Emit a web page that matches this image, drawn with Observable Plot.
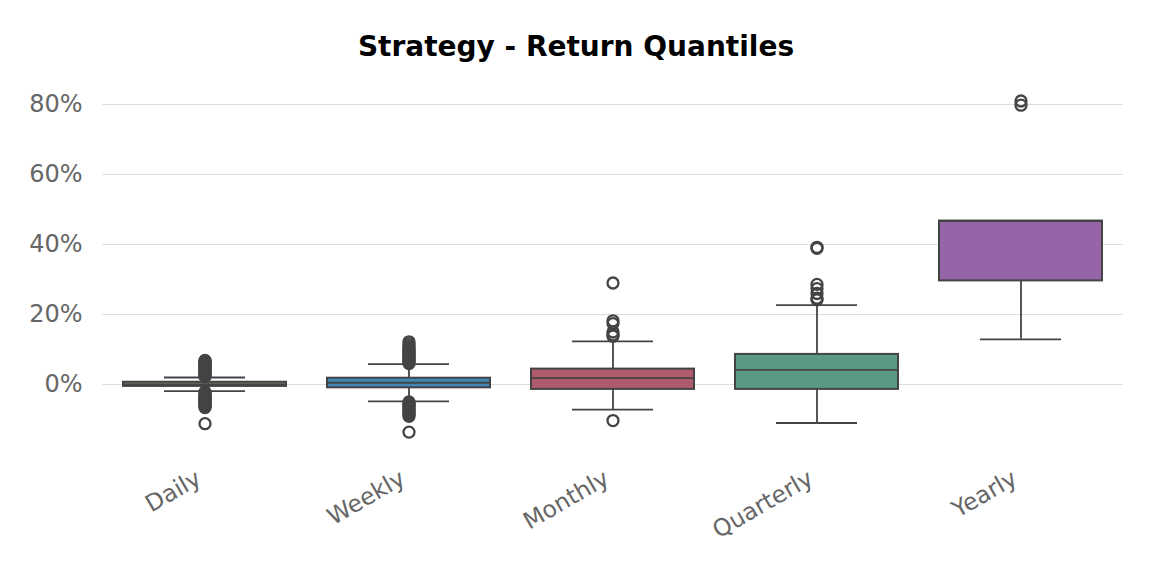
<!DOCTYPE html>
<html>
<head>
<meta charset="utf-8">
<script src="https://cdn.jsdelivr.net/npm/d3@7"></script>
<script src="https://cdn.jsdelivr.net/npm/@observablehq/plot@0.6"></script>
<style>
  body { margin: 0; background: #fff; }
  #title { height: 70px; box-sizing: border-box; padding-top: 30px; line-height: 32px;
           font: bold 28px "DejaVu Sans", sans-serif; text-align: center; color: #000; }
</style>
</head>
<body>
<div id="title">Strategy - Return Quantiles</div>
<div id="chart"></div>
<script>
const categories = ["Daily", "Weekly", "Monthly", "Quarterly", "Yearly"];
const colors = ["#7d7866", "#3f87b5", "#b05a6e", "#5a9a82", "#9565a8"];
const q1 = [-0.55, -0.95, -1.4, -1.4, 29.6];
const median = [0.05, 0.5, 1.8, 4.2, 46.7];
const q3 = [0.65, 1.8, 4.4, 8.6, 46.7];
const whiskerLow = [-1.9, -4.8, -7.2, -11.0, 12.9];
const whiskerHigh = [2.0, 5.8, 12.3, 22.7, 46.7];
const outliersDaily = [2.2, 2.5, 2.8, 3.1, 3.4, 3.7, 4.0, 4.3, 4.6, 4.9, 5.2, 5.5, 5.8, 6.1, 6.4, 6.7, 6.9,
  -2.1, -2.4, -2.7, -3.0, -3.3, -3.6, -3.9, -4.2, -4.5, -4.8, -5.1, -5.4, -5.7, -6.0, -6.3, -6.6, -11.2];
const outliersWeekly = [6.0, 6.4, 6.8, 7.2, 7.6, 8.0, 8.4, 8.8, 9.2, 9.6, 10.0, 10.5, 11.0, 11.6, 12.2,
  -5.0, -5.4, -5.8, -6.2, -6.6, -7.0, -7.4, -7.8, -8.2, -8.6, -9.1, -13.6];
const outliersMonthly = [29.0, 18.2, 17.4, 15.0, 14.2, 13.8, -10.3];
const outliersQuarterly = [39.2, 38.9, 28.6, 27.4, 26.0, 24.7, 24.2];
const outliersYearly = [81.0, 79.8];
const yTicks = [0, 20, 40, 60, 80];

const stats = categories.map((c, i) => ({
  cat: c, q1: q1[i], median: median[i], q3: q3[i], lo: whiskerLow[i], hi: whiskerHigh[i]
}));
const outlierLists = [outliersDaily, outliersWeekly, outliersMonthly, outliersQuarterly, outliersYearly];
const outliers = outlierLists.flatMap((list, i) => list.map(v => ({cat: categories[i], v})));

const ink = "#444444";
const lw = 1.8;
const chart = Plot.plot({
  width: 1152,
  height: 506,
  marginLeft: 102,
  marginRight: 29,
  marginTop: 6,
  marginBottom: 122,
  style: {fontFamily: "DejaVu Sans, sans-serif", background: "#fff"},
  x: {domain: categories, paddingInner: 0.2, paddingOuter: 0.1, label: null},
  y: {domain: [-20, 88], label: null},
  color: {domain: categories, range: colors},
  marks: [
    Plot.gridY(yTicks, {stroke: "#dddddd", strokeOpacity: 1, strokeWidth: 1}),
    Plot.axisY(yTicks, {tickFormat: d => d + "%", tickSize: 0, tickPadding: 20, fontSize: 24, fill: "#666666"}),
    Plot.axisX({tickSize: 0, tickPadding: 22, tickRotate: -30, fontSize: 23.5, fill: "#666666", dx: -6}),
    Plot.ruleX(stats, {x: "cat", y1: "lo", y2: "q1", stroke: ink, strokeWidth: lw}),
    Plot.ruleX(stats, {x: "cat", y1: "q3", y2: "hi", stroke: ink, strokeWidth: lw}),
    Plot.tickY(stats, {x: "cat", y: "lo", stroke: ink, strokeWidth: lw, insetLeft: 41, insetRight: 41}),
    Plot.tickY(stats, {x: "cat", y: "hi", stroke: ink, strokeWidth: lw, insetLeft: 41, insetRight: 41}),
    Plot.barY(stats, {x: "cat", y1: "q1", y2: "q3", fill: "cat", stroke: ink, strokeWidth: 2}),
    Plot.tickY(stats, {x: "cat", y: "median", stroke: ink, strokeWidth: lw}),
    Plot.dot(outliers, {x: "cat", y: "v", r: 5.5, stroke: ink, strokeWidth: 2.3, fill: "none"})
  ]
});
document.getElementById("chart").appendChild(chart);
</script>
</body>
</html>
